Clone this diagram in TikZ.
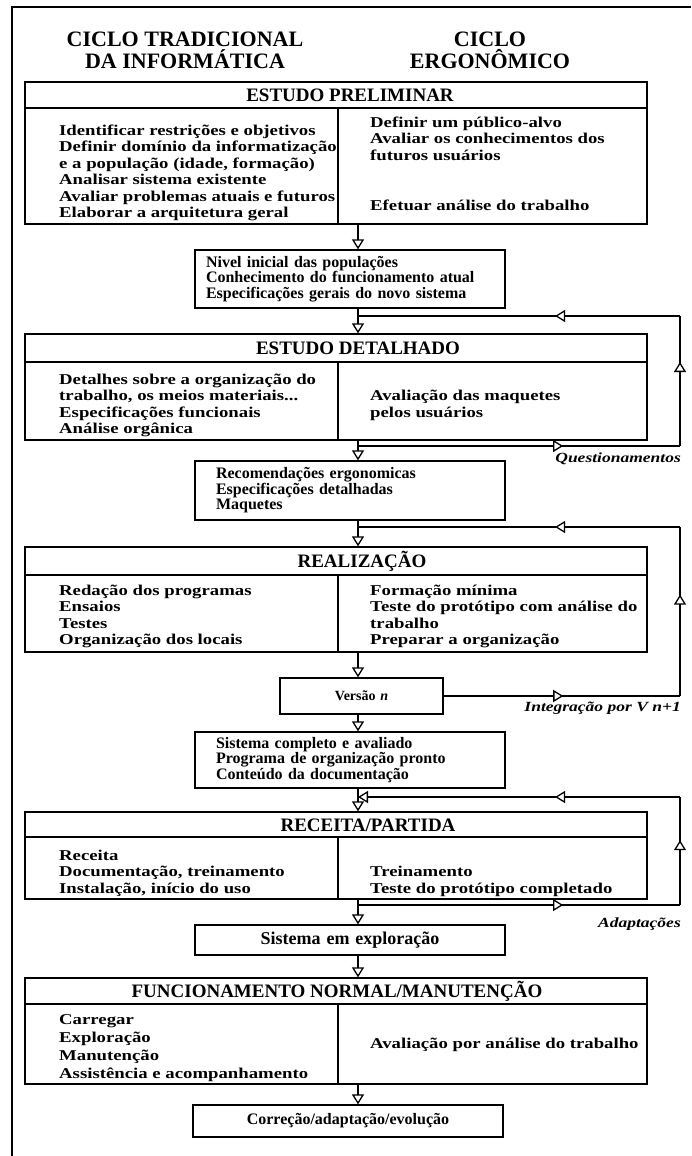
\documentclass[tikz,border=0pt]{standalone}
\usepackage{fontspec}
\setmainfont{Liberation Serif}
\newfontfamily\widefont{Liberation Serif}[FakeStretch=1.25]
\usetikzlibrary{arrows.meta,decorations.markings}
\lineskiplimit=-20pt

\tikzset{
  boxline/.style={line width=1.3pt},
  bigbox/.style={boxline,draw,minimum width=622pt,inner sep=0pt},
  smallbox/.style={boxline,draw,minimum width=310pt,text width=268pt,inner xsep=21pt,
    inner ysep=0pt,align=left,font=\bfseries\fontsize{16}{15.5}\selectfont},
  title/.style={anchor=base,inner sep=0pt,align=center,font=\bfseries\fontsize{22}{21}\selectfont},
  head/.style={anchor=base,inner sep=0pt,font=\bfseries\fontsize{19}{21}\selectfont},
  col/.style={anchor=base west,inner sep=0pt,align=left,
    font=\widefont\bfseries\fontsize{15}{16.5}\selectfont},
  lbl/.style={anchor=base east,inner sep=0pt,font=\widefont\bfseries\itshape\fontsize{14}{16}\selectfont},
  flow/.style={boxline,-{Triangle[fill=white,length=10pt,width=12pt]}},
  midtip/.style={postaction={decorate},decoration={markings,
    mark=at position #1 with {\arrow{Triangle[fill=white,length=10pt,width=12pt]}}}}
}

\begin{document}
\begin{tikzpicture}[x=1pt,y=-1pt]
    \useasboundingbox (0,0) rectangle (691,1156);
    \draw[line width=2.2pt] (12,1156) -- (12,7) -- (691,7);

    % text nodes are placed by the baseline of their last line
    \node[title] (t-info) at (185,68) {CICLO TRADICIONAL\\DA INFORMÁTICA};
    \node[title] (t-ergo) at (490,68) {CICLO\\ERGONÔMICO};

    % ESTUDO PRELIMINAR
    \node[bigbox,minimum height=142pt] (pre) at (336,153) {};
    \draw[boxline] (25,108) -- (647,108) (338,108) -- (338,224);
    \node[head] (pre-h) at (350,101) {ESTUDO PRELIMINAR};
    \node[col] (pre-l) at (59,217.5) {Identificar restrições e objetivos\\Definir domínio da informatização\\
      e a população (idade, formação)\\Analisar sistema existente\\
      Avaliar problemas atuais e futuros\\Elaborar a arquitetura geral};
    \node[col] (pre-r) at (370,160) {Definir um público-alvo\\Avaliar os conhecimentos dos\\futuros usuários};
    \node[col] (pre-r2) at (370,210) {Efetuar análise do trabalho};

    \node[smallbox,minimum height=58pt,text width=288pt,inner xsep=11pt] (niv) at (350,279)
      {Nivel inicial das populações\\Conhecimento do funcionamento atual\\Especificações gerais do novo sistema};

    % ESTUDO DETALHADO
    \node[bigbox,minimum height=106pt] (det) at (336,387) {};
    \draw[boxline] (25,362) -- (647,362) (338,362) -- (338,440);
    \node[head] (det-h) at (358,354) {ESTUDO DETALHADO};
    \node[col] (det-l) at (59,433.5) {Detalhes sobre a organização do\\trabalho, os meios materiais...\\
      Especificações funcionais\\Análise orgânica};
    \node[col] (det-r) at (370,417) {Avaliação das maquetes\\pelos usuários};

    \node[smallbox,minimum height=59pt] (rcm) at (350,490.5)
      {Recomendações ergonomicas\\Especificações detalhadas\\Maquetes};

    % REALIZACAO
    \node[bigbox,minimum height=105pt] (rea) at (336,599.5) {};
    \draw[boxline] (25,575) -- (647,575) (338,575) -- (338,652);
    \node[head] (rea-h) at (362,567) {REALIZAÇÃO};
    \node[col] (rea-l) at (59,644.5) {Redação dos programas\\Ensaios\\Testes\\Organização dos locais};
    \node[col] (rea-r) at (370,644.5) {Formação mínima\\Teste do protótipo com análise do\\trabalho\\
      Preparar a organização};

    \node[smallbox,minimum width=163pt,text width=163pt,inner xsep=0pt,minimum height=36pt,
      align=center,font=\bfseries\fontsize{14}{15}\selectfont] (ver) at (361.5,696) {Versão \textit{n}};

    \node[smallbox,minimum height=56pt] (sis) at (350,760)
      {Sistema completo e avaliado\\Programa de organização pronto\\Conteúdo da documentação};

    % RECEITA/PARTIDA
    \node[bigbox,minimum height=87pt] (rec) at (336,855.5) {};
    \draw[boxline] (25,837) -- (647,837) (338,837) -- (338,899);
    \node[head] (rec-h) at (368,831) {RECEITA/PARTIDA};
    \node[col] (rec-l) at (59,893) {Receita\\Documentação, treinamento\\Instalação, início do uso};
    \node[col] (rec-r) at (370,893) {Treinamento\\Teste do protótipo completado};

    \node[smallbox,minimum height=30pt,text width=310pt,inner xsep=0pt,align=center,
      font=\bfseries\fontsize{18}{18}\selectfont] (exp) at (350,940) {Sistema em exploração};

    % FUNCIONAMENTO
    \node[bigbox,minimum height=106pt] (fun) at (336,1031) {};
    \draw[boxline] (25,1004) -- (647,1004) (338,1004) -- (338,1084);
    \node[head] (fun-h) at (337,997) {FUNCIONAMENTO NORMAL/MANUTENÇÃO};
    \node[col,font=\widefont\bfseries\fontsize{15}{18}\selectfont] (fun-l) at (59,1078)
      {Carregar\\Exploração\\Manutenção\\Assistência e acompanhamento};
    \node[col] (fun-r) at (370,1048) {Avaliação por análise do trabalho};

    \node[smallbox,minimum height=32pt,text width=310pt,inner xsep=0pt,align=center] (cor) at (348,1121)
      {Correção/adaptação/evolução};

    % main flow
    \coordinate (ax) at (358,0);
    \draw[flow] (pre.south -| ax) -- (niv.north -| ax);
    \draw[flow] (niv.south -| ax) -- (det.north -| ax);
    \draw[flow] (det.south -| ax) -- (rcm.north -| ax);
    \draw[flow] (rcm.south -| ax) -- (rea.north -| ax);
    \draw[flow] (rea.south -| ax) -- (ver.north -| ax);
    \draw[flow] (ver.south -| ax) -- (sis.north -| ax);
    \draw[flow] (sis.south -| ax) -- (rec.north -| ax);
    \draw[flow] (rec.south -| ax) -- (exp.north -| ax);
    \draw[flow] (exp.south -| ax) -- (fun.north -| ax);
    \draw[flow] (fun.south -| ax) -- (cor.north -| ax);

    % loops
    \coordinate (q1) at (358,316);
    \coordinate (q2) at (680,316);
    \coordinate (q3) at (680,446);
    \coordinate (q4) at (358,446);
    \draw[boxline,midtip=0.637] (q4) -- (q3);
    \draw[boxline,midtip=0.646] (q3) -- (q2);
    \draw[boxline,midtip=0.388] (q2) -- (q1);
    \node[lbl] (l-quest) at (681,462) {Questionamentos};

    \coordinate (r1) at (358,527);
    \coordinate (r2) at (680,527);
    \coordinate (r3) at (680,696);
    \draw[boxline,midtip=0.506] (ver.east) -- (r3);
    \draw[boxline,midtip=0.6] (r3) -- (r2);
    \draw[boxline,midtip=0.388] (r2) -- (r1);
    \node[lbl] (l-integ) at (681,711) {Integração por V n+1};

    \coordinate (s1) at (358,797);
    \coordinate (s2) at (680,797);
    \coordinate (s3) at (680,905);
    \coordinate (s4) at (358,905);
    \draw[boxline,midtip=0.637] (s4) -- (s3);
    \draw[boxline,midtip=0.6] (s3) -- (s2);
    \draw[boxline,midtip=0.388,-{Triangle[fill=white,length=10pt,width=12pt]}] (s2) -- (s1);
    \node[lbl] (l-adapt) at (681,927) {Adaptações};
\end{tikzpicture}
\end{document}
